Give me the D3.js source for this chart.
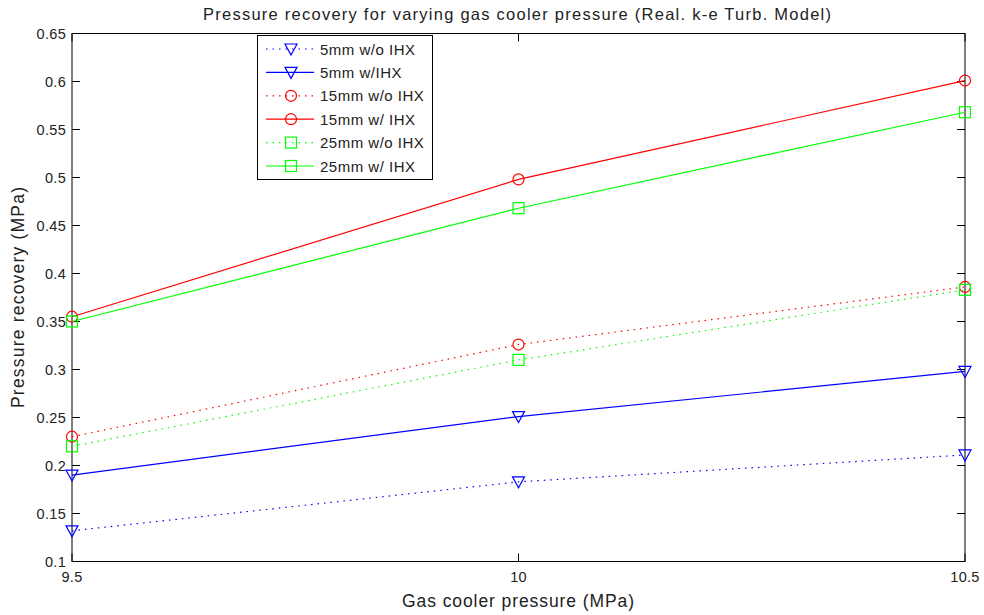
<!DOCTYPE html>
<html><head><meta charset="utf-8">
<script src="https://cdn.jsdelivr.net/npm/d3@7"></script>
<style>body{margin:0;background:#fff}svg{display:block}text{font-family:"Liberation Sans",Arial,sans-serif}</style>
</head><body><svg id="c" width="984" height="615"></svg>
<script>
const xValues = [9.5, 10, 10.5];
const seriesNames = ["5mm w/o IHX","5mm w/IHX","15mm w/o IHX","15mm w/ IHX","25mm w/o IHX","25mm w/ IHX"];
const s5wo  = [0.132, 0.183, 0.211];
const s5w   = [0.190, 0.251, 0.298];
const s15wo = [0.230, 0.326, 0.386];
const s15w  = [0.355, 0.498, 0.601];
const s25wo = [0.220, 0.310, 0.383];
const s25w  = [0.350, 0.468, 0.568];
const xTicks = [9.5, 10, 10.5];
const yTicks = [0.1,0.15,0.2,0.25,0.3,0.35,0.4,0.45,0.5,0.55,0.6,0.65];

const seriesValues = [s5wo, s5w, s15wo, s15w, s25wo, s25w];
const colors = ["#0000ff","#0000ff","#ff0000","#ff0000","#00ff00","#00ff00"];
const dotted = [true,false,true,false,true,false];
const markers = ["tri","tri","circ","circ","sq","sq"];

const svg = d3.select("#c");
const L=72, R=965, T=33.5, B=561.5;
const x = d3.scaleLinear().domain([9.5,10.5]).range([L,R]);
const y = d3.scaleLinear().domain([0.1,0.65]).range([B,T]);

const g = svg.append("g");
g.append("rect").attr("x",L).attr("y",T).attr("width",R-L).attr("height",B-T)
 .attr("fill","none").attr("stroke","#000").attr("stroke-width",1);
const tl = 8;
const fmt = d => String(+d.toFixed(2));
yTicks.forEach(t=>{
  g.append("line").attr("x1",L).attr("x2",L+tl).attr("y1",y(t)).attr("y2",y(t)).attr("stroke","#000");
  g.append("line").attr("x1",R).attr("x2",R-tl).attr("y1",y(t)).attr("y2",y(t)).attr("stroke","#000");
  g.append("text").attr("x",L-6).attr("y",y(t)+5).attr("text-anchor","end").attr("font-size",14.5).attr("letter-spacing",0.3).attr("fill","#222").text(fmt(t));
});
xTicks.forEach(t=>{
  g.append("line").attr("x1",x(t)).attr("x2",x(t)).attr("y1",B).attr("y2",B-tl).attr("stroke","#000");
  g.append("line").attr("x1",x(t)).attr("x2",x(t)).attr("y1",T).attr("y2",T+tl).attr("stroke","#000");
  g.append("text").attr("x",x(t)).attr("y",B+20).attr("text-anchor","middle").attr("font-size",14.5).attr("letter-spacing",0.3).attr("fill","#222").text(fmt(t));
});
svg.append("text").attr("x",203).attr("y",20).attr("font-size",16.5).attr("fill","#222")
  .attr("textLength",628).attr("lengthAdjust","spacing")
  .text("Pressure recovery for varying gas cooler pressure (Real. k-e Turb. Model)");
svg.append("text").attr("x",402).attr("y",607).attr("font-size",17.5).attr("fill","#222")
  .attr("textLength",232).attr("lengthAdjust","spacing")
  .text("Gas cooler pressure (MPa)");
svg.append("text").attr("transform","translate(24,408) rotate(-90)").attr("font-size",17.5).attr("fill","#222")
  .attr("textLength",221).attr("lengthAdjust","spacing")
  .text("Pressure recovery (MPa)");

function marker(sel, type, cx, cy, col){
  if(type==="tri"){
    sel.append("path").attr("d",`M${cx-6},${cy-5}L${cx+6},${cy-5}L${cx},${cy+6}Z`).attr("fill","none").attr("stroke",col).attr("stroke-width",1.2);
  } else if(type==="circ"){
    sel.append("circle").attr("cx",cx).attr("cy",cy).attr("r",5.5).attr("fill","none").attr("stroke",col).attr("stroke-width",1.2);
  } else {
    sel.append("rect").attr("x",cx-5.5).attr("y",cy-5.5).attr("width",11).attr("height",11).attr("fill","none").attr("stroke",col).attr("stroke-width",1.2);
  }
}
const line = d3.line().x((d,i)=>x(xValues[i])).y(d=>y(d));
seriesValues.forEach((vals,k)=>{
  g.append("path").attr("d",line(vals)).attr("fill","none").attr("stroke",colors[k]).attr("stroke-width",1.2)
    .attr("stroke-dasharray",dotted[k]?"1.5,5":null);
  vals.forEach((v,i)=>marker(g,markers[k],x(xValues[i]),y(v),colors[k]));
});
const lg = svg.append("g");
lg.append("rect").attr("x",257.5).attr("y",35.5).attr("width",175).attr("height",144).attr("fill","#fff").attr("stroke","#000");
seriesNames.forEach((n,k)=>{
  const yy = 49 + k*23.4;
  lg.append("line").attr("x1",266).attr("x2",314).attr("y1",yy).attr("y2",yy).attr("stroke",colors[k]).attr("stroke-width",1.2)
    .attr("stroke-dasharray",dotted[k]?"1.5,5":null);
  marker(lg,markers[k],291,yy,colors[k]);
  lg.append("text").attr("x",320).attr("y",yy+5.5).attr("font-size",15).attr("letter-spacing",0.5).attr("fill","#222").text(n);
});
</script></body></html>
